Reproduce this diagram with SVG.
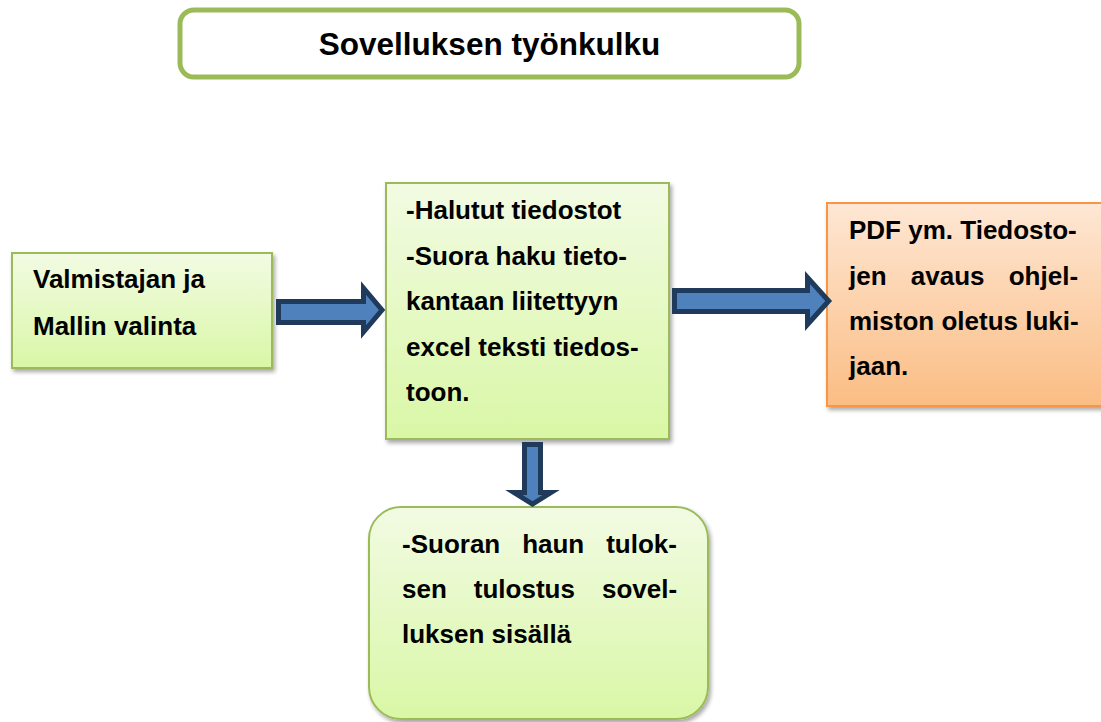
<svg xmlns="http://www.w3.org/2000/svg" width="1101" height="722" viewBox="0 0 1101 722">
<defs>
<linearGradient id="gGreen" x1="0" y1="0" x2="0" y2="1">
<stop offset="0" stop-color="#F2FBE3"/>
<stop offset="1" stop-color="#D9F7A6"/>
</linearGradient>
<linearGradient id="gOrange" x1="0" y1="0" x2="0" y2="1">
<stop offset="0" stop-color="#FEE7D4"/>
<stop offset="1" stop-color="#FBBD84"/>
</linearGradient>
<filter id="shadow" x="-10%" y="-10%" width="125%" height="125%">
<feGaussianBlur in="SourceAlpha" stdDeviation="2"/>
<feOffset dx="2" dy="3" result="b"/>
<feComponentTransfer><feFuncA type="linear" slope="0.35"/></feComponentTransfer>
<feMerge><feMergeNode/><feMergeNode in="SourceGraphic"/></feMerge>
</filter>
</defs>
<style>
.box{fill:url(#gGreen);stroke:#9BBB59;stroke-width:2;filter:url(#shadow)}
.obox{fill:url(#gOrange);stroke:#F79646;stroke-width:2;filter:url(#shadow)}
.t{font-family:"Liberation Sans",Arial,sans-serif;font-weight:bold;font-size:26px;fill:#000}
.title{font-family:"Liberation Sans",Arial,sans-serif;font-weight:bold;font-size:31.5px;fill:#000}
.arrow{fill:#4F81BD;stroke:#1F3A5A;stroke-width:5;stroke-linejoin:miter;stroke-miterlimit:10}
</style>
<rect width="1101" height="722" fill="#FFFFFF"/>

<g id="title">
<rect x="180" y="10" width="619" height="67" rx="14" ry="14" fill="#FFFFFF" stroke="#9BBB59" stroke-width="5"/>
<text class="title" x="489.5" y="55" text-anchor="middle">Sovelluksen työnkulku</text>
</g>

<g id="node-valinta">
<rect class="box" x="12" y="253" width="260" height="115"/>
<text class="t"><tspan x="33" y="288">Valmistajan ja</tspan><tspan x="33" y="335">Mallin valinta</tspan></text>
</g>

<g id="node-haku">
<rect class="box" x="386" y="183" width="283" height="256"/>
<text class="t">
<tspan x="406" y="219">-Halutut tiedostot</tspan>
<tspan x="406" y="264.5">-Suora haku tieto-</tspan>
<tspan x="406" y="310">kantaan liitettyyn</tspan>
<tspan x="406" y="355.5">excel teksti tiedos-</tspan>
<tspan x="406" y="401">toon.</tspan>
</text>
</g>

<g id="node-pdf">
<rect class="obox" x="827" y="203" width="280" height="203"/>
<text class="t" x="849" y="239">PDF ym. Tiedosto-</text>
<text class="t" x="849" y="285" style="word-spacing:17px">jen avaus ohjel-</text>
<text class="t" x="849" y="330">miston oletus luki-</text>
<text class="t" x="849" y="375">jaan.</text>
</g>

<g id="node-tulostus">
<rect class="box" x="369" y="507" width="339" height="212" rx="32" ry="32"/>
<text class="t" x="402" y="553" style="word-spacing:14.7px">-Suoran haun tulok-</text>
<text class="t" x="402" y="598" style="word-spacing:19.8px">sen tulostus sovel-</text>
<text class="t" x="402" y="643">luksen sisällä</text>
</g>

<g id="connectors">
<path class="arrow" d="M278.5,301.5 H363.5 V288 L382,310 L363.5,332 V322.5 H278.5 Z"/>
<path class="arrow" d="M674.5,290.5 H807.5 V277.5 L828.7,301 L807.5,324.5 V311.5 H674.5 Z"/>
<path class="arrow" d="M524.5,444.5 H540.5 V492.5 H551 L532.5,504 L514,492.5 H524.5 Z"/>
</g>
</svg>
